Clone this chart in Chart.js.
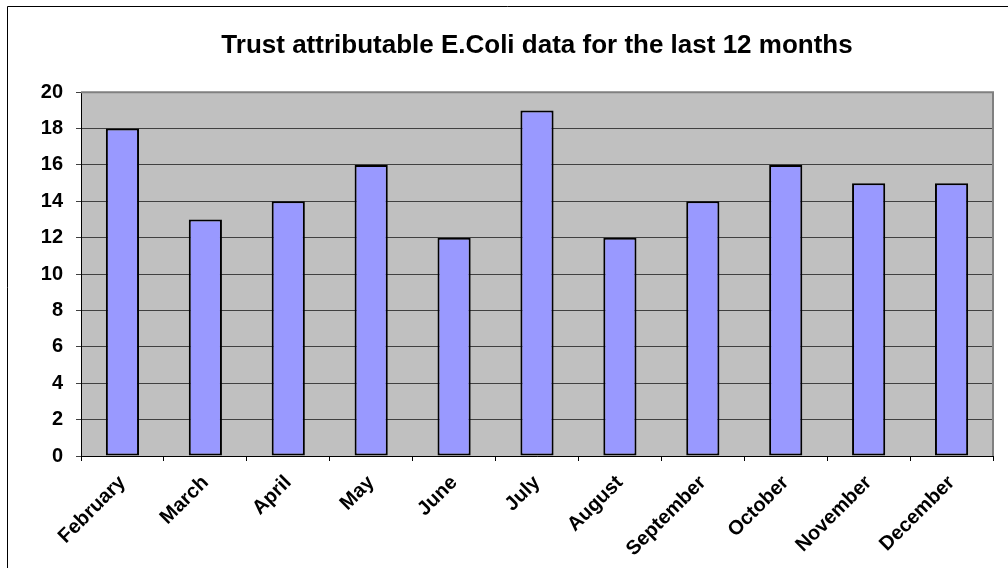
<!DOCTYPE html>
<html>
<head>
<meta charset="utf-8">
<title>Trust attributable E.Coli data</title>
<script src="https://cdn.jsdelivr.net/npm/chart.js@4.4.1/dist/chart.umd.min.js"></script>
<style>
  html, body { margin: 0; padding: 0; background: #ffffff; }
  #wrap { width: 1008px; height: 568px; position: relative; }
  canvas { display: block; }
</style>
</head>
<body>
<div id="wrap"><canvas id="chart" width="1008" height="568"></canvas></div>
<script>
// Monthly counts of trust-attributable E.Coli cases
const months = ['February', 'March', 'April', 'May', 'June', 'July',
                'August', 'September', 'October', 'November', 'December'];
const cases = [18, 13, 14, 16, 12, 19, 12, 14, 16, 15, 15];

// Value axis range
const yMin = 0;
const yMax = 20;
const yStep = 2;

const chartTitle = 'Trust attributable E.Coli data for the last 12 months';
const FONT = 'Arial, "Liberation Sans", sans-serif';

// Page frame, grey plot background and plot-area edges;
// the title is centred over the plot area rather than the whole canvas
const framePlugin = {
  id: 'frame',
  afterLayout(chart) {
    const t = chart.titleBlock;
    const a = chart.chartArea;
    if (t) {
      t.left = a.left;
      t.right = a.right;
      t.width = a.right - a.left;
    }
  },
  beforeDraw(chart) {
    const ctx = chart.ctx;
    const a = chart.chartArea;
    ctx.save();
    ctx.fillStyle = '#ffffff';
    ctx.fillRect(0, 0, chart.width, chart.height);
    ctx.strokeStyle = '#000000';
    ctx.lineWidth = 1;
    ctx.beginPath();
    ctx.moveTo(7.5, chart.height);
    ctx.lineTo(7.5, 6.5);
    ctx.lineTo(chart.width, 6.5);
    ctx.stroke();
    ctx.fillStyle = '#c0c0c0';
    ctx.fillRect(a.left, a.top, a.right - a.left, a.bottom - a.top);
    ctx.restore();
  },
  beforeDatasetsDraw(chart) {
    const ctx = chart.ctx;
    const a = chart.chartArea;
    ctx.save();
    ctx.strokeStyle = '#808080';
    ctx.lineWidth = 2;
    ctx.beginPath();
    ctx.moveTo(a.left, a.top);
    ctx.lineTo(a.right, a.top);
    ctx.lineTo(a.right, a.bottom);
    ctx.stroke();
    ctx.restore();
  }
};

new Chart(document.getElementById('chart'), {
  type: 'bar',
  data: {
    labels: months,
    datasets: [{
      data: cases,
      backgroundColor: '#9999ff',
      borderColor: '#000000',
      borderWidth: 2,
      borderSkipped: false,
      categoryPercentage: 1.0,
      barPercentage: 0.4
    }]
  },
  plugins: [framePlugin],
  options: {
    responsive: false,
    animation: false,
    devicePixelRatio: 1,
    layout: { padding: { top: 30, left: 7, right: 15, bottom: 0 } },
    plugins: {
      legend: { display: false },
      tooltip: { enabled: false },
      title: {
        display: true,
        text: chartTitle,
        color: '#000000',
        font: { family: FONT, size: 26, weight: 'bold', lineHeight: 1.2 },
        padding: { top: 0, bottom: 31 }
      }
    },
    scales: {
      x: {
        offset: true,
        grid: {
          offset: true,
          drawOnChartArea: false,
          drawTicks: true,
          tickLength: 5,
          color: '#000000'
        },
        border: { display: true, color: '#000000', width: 1 },
        ticks: {
          color: '#000000',
          font: { family: FONT, size: 20, weight: 'bold' },
          minRotation: 45,
          maxRotation: 45,
          autoSkip: false,
          padding: 10
        },
        afterFit(scale) { scale.height = 112; }
      },
      y: {
        min: yMin,
        max: yMax,
        grid: {
          color: '#404040',
          lineWidth: 1,
          tickLength: 5,
          drawTicks: true
        },
        border: { display: true, color: '#000000', width: 1 },
        ticks: {
          stepSize: yStep,
          color: '#000000',
          font: { family: FONT, size: 20, weight: 'bold' },
          padding: 13
        },
        afterFit(scale) { scale.width = 74; }
      }
    }
  }
});
</script>
</body>
</html>
